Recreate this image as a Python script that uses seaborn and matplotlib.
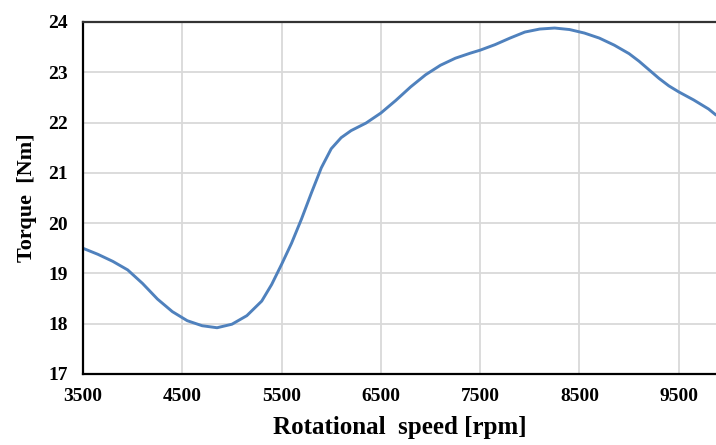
import matplotlib
matplotlib.use("Agg")
import matplotlib.pyplot as plt
import seaborn as sns
import pandas as pd

speed_rpm = [3500, 3650, 3800, 3950, 4100, 4250, 4400, 4550, 4700, 4850,
             5000, 5150, 5300, 5400, 5500, 5600, 5700, 5800, 5900, 6000,
             6100, 6200, 6350, 6500, 6650, 6800, 6950, 7100, 7250, 7400,
             7500, 7650, 7800, 7950, 8100, 8250, 8400, 8550, 8700, 8850,
             9000, 9100, 9200, 9300, 9400, 9500, 9650, 9800, 9875]
torque_nm = [19.50, 19.38, 19.24, 19.07, 18.80, 18.49, 18.24, 18.06, 17.96, 17.92,
             17.99, 18.16, 18.45, 18.78, 19.18, 19.60, 20.08, 20.60, 21.10, 21.48,
             21.70, 21.84, 21.99, 22.19, 22.44, 22.71, 22.95, 23.14, 23.28, 23.38,
             23.44, 23.55, 23.68, 23.80, 23.86, 23.88, 23.85, 23.78, 23.68, 23.54,
             23.37, 23.22, 23.05, 22.88, 22.73, 22.61, 22.45, 22.27, 22.15]
x_ticks = [3500, 4500, 5500, 6500, 7500, 8500, 9500]
y_ticks = [17, 18, 19, 20, 21, 22, 23, 24]

sns.set_style("white")
plt.rcParams['font.family'] = ['Liberation Serif', 'DejaVu Serif']
plt.rcParams['text.color'] = 'black'
plt.rcParams['axes.labelcolor'] = 'black'
plt.rcParams['xtick.color'] = 'black'
plt.rcParams['ytick.color'] = 'black'

df = pd.DataFrame({"speed": speed_rpm, "torque": torque_nm})

fig = plt.figure(figsize=(7.16, 4.45), dpi=100)
ax = fig.add_axes([83/716, 1-374/445, 1-83/716, (374-22)/445])

ax.grid(True, color="#d9d9d9", linewidth=1.3)
ax.set_axisbelow(True)

sns.lineplot(data=df, x="speed", y="torque", ax=ax, color="#4f81bd",
             linewidth=2.1, solid_joinstyle="round", solid_capstyle="round")

ax.set_xlim(3500, 9875)
ax.set_ylim(17, 24)
ax.set_xticks(x_ticks)
ax.set_yticks(y_ticks)
ax.set_xticklabels([str(t) for t in x_ticks], fontweight="bold", fontsize=14)
ax.set_yticklabels([str(t) for t in y_ticks], fontweight="bold", fontsize=14)
ax.tick_params(axis="both", direction="in", length=5, width=1.2, color="black",
               labelcolor="black")
ax.tick_params(axis="x", pad=10)
ax.tick_params(axis="y", pad=11)

for s in ["left", "bottom", "top"]:
    ax.spines[s].set_visible(True)
    ax.spines[s].set_color("black")
    ax.spines[s].set_linewidth(1.6)
ax.spines["top"].set_color("#333333")
ax.spines["right"].set_visible(False)

ax.set_xlabel("Rotational  speed [rpm]", fontweight="bold", fontsize=18,
              labelpad=8, color="black")
ax.set_ylabel("Torque  [Nm]", fontweight="bold", fontsize=16, labelpad=8,
              color="black")

fig.savefig("out.png", dpi=100)
